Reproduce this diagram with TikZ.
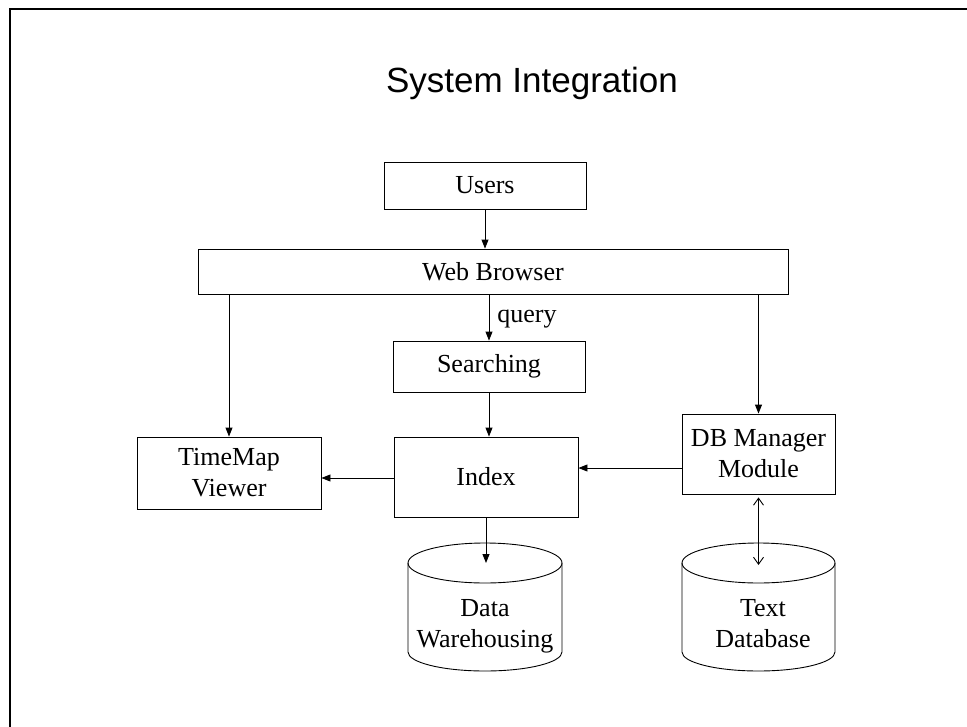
\documentclass[tikz,border=0pt]{standalone}
\usepackage{fontspec}
\setmainfont{Liberation Serif}
\newfontfamily\titlefont{Liberation Sans}
\usetikzlibrary{arrows.meta}
\newcommand\bodysize{\fontsize{26}{31}\selectfont}
\begin{document}
\begin{tikzpicture}[x=1pt,y=-1pt,
  box/.style={draw, line width=0.9pt, inner sep=0pt, font=\bodysize, align=center},
  arr/.style={-{Triangle[length=9pt,width=7pt]}, line width=0.9pt},
  dbl/.style={{Straight Barb[length=7pt,width=10pt]}-{Straight Barb[length=7pt,width=10pt]}, line width=0.9pt},
  cyl/.style={line width=0.9pt},
  lbl/.style={font=\bodysize, align=center, inner sep=0pt}]
\useasboundingbox (0,0) rectangle (967,726);
\draw[line width=2pt] (10,727) -- (10,9) -- (968,9);
\node[font=\titlefont\fontsize{35}{40}\selectfont, inner sep=0pt] (title) at (532,83) {System Integration};

\node[box, minimum width=202, minimum height=47] (users) at (485,185.5) {Users};
\node[box, minimum width=590, minimum height=45] (web) at (493,271.5) {Web Browser};
\node[box, minimum width=192, minimum height=51] (search) at (489,366.5) {Searching};
\node[box, minimum width=184, minimum height=80] (index) at (486,477) {Index};
\node[box, minimum width=184, minimum height=72] (tm) at (229,473) {TimeMap\\Viewer};
\node[box, minimum width=153, minimum height=80] (dbm) at (758.5,454) {DB Manager\\Module};

% cylinders
\draw[cyl] (408,563) -- (408,652) arc[start angle=180, end angle=0, x radius=77, y radius=19] -- (562,563);
\draw[cyl] (485,563) ellipse [x radius=77, y radius=20];
\coordinate (dwtop) at (486,563);
\node[lbl] (dw) at (485,626) {Data\\Warehousing};

\draw[cyl] (682,563) -- (682,652) arc[start angle=180, end angle=0, x radius=76.5, y radius=19] -- (835,563);
\draw[cyl] (758.5,563) ellipse [x radius=76.5, y radius=20];
\coordinate (tdtop) at (758.5,565);
\node[lbl] (td) at (763,624) {Text\\Database};

% connectors
\draw[arr] (users.south) -- (users.south |- web.north);
\draw[arr] (tm.north |- web.south) -- (tm.north);
\draw[arr] (search.north |- web.south) -- node[right, lbl, xshift=8pt, yshift=-2pt] (q) {query} (search.north);
\draw[arr] (dbm.north |- web.south) -- (dbm.north);
\draw[arr] (search.south) -- (search.south |- index.north);
\draw[arr] ([yshift=-14pt]dbm.west) -- ([yshift=-14pt]dbm.west -| index.east);
\draw[arr] ([yshift=-1pt]index.west) -- ([yshift=-1pt]index.west -| tm.east);
\draw[arr] (index.south) -- (dwtop);
\draw[dbl, shorten <=3pt] (dbm.south) -- (tdtop);
\end{tikzpicture}
\end{document}
